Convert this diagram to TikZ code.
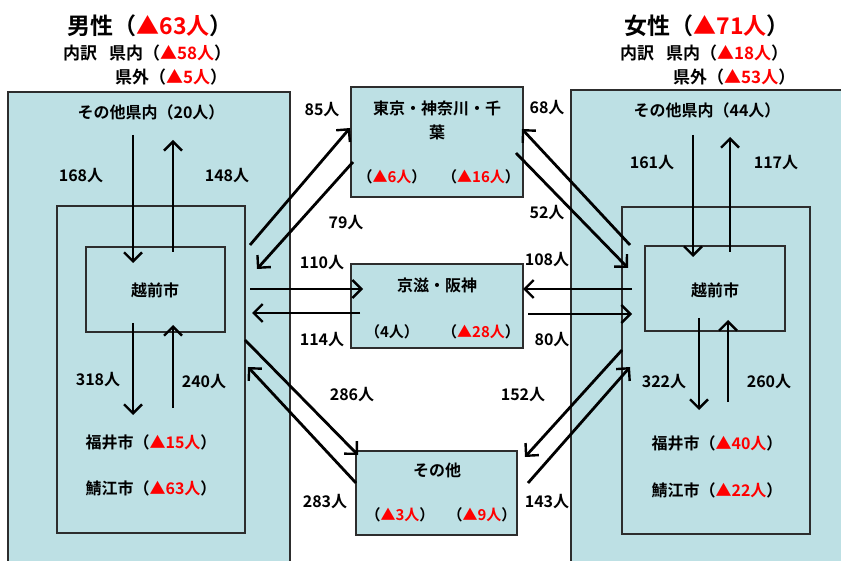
\documentclass[tikz,border=0pt]{standalone}
\usepackage{fontspec}
\setmainfont{Noto Sans CJK JP}[BoldFont={Noto Sans CJK JP Bold}]
\usetikzlibrary{arrows.meta}
\definecolor{boxfill}{RGB}{189,224,228}
\definecolor{hl}{RGB}{255,0,0}
\definecolor{edge}{RGB}{45,45,45}
\begin{document}
\begin{tikzpicture}[x=1pt,y=-1pt,
  box/.style={draw=edge, line width=1.1pt, fill=boxfill, inner sep=0pt},
  flow/.style={line width=2.8pt, -{Straight Barb[length=9pt,width=18pt,line width=2.4pt]}},
  lbl/.style={font=\fontsize{15}{17}\selectfont\bfseries, inner sep=0pt},
  num/.style={font=\fontsize{16}{18}\selectfont\bfseries, inner sep=0pt},
  txt/.style={font=\fontsize{16}{19}\selectfont\bfseries, inner sep=0pt},
  ttl/.style={font=\fontsize{23}{26}\selectfont\bfseries, inner sep=0pt},
  sub/.style={font=\fontsize{17}{20}\selectfont\bfseries, inner sep=0pt, anchor=west}]
\useasboundingbox (0,0) rectangle (841,561);
\clip (0,0) rectangle (841,561);
\fill[white] (0,0) rectangle (841,561);

% boxes
\node[box, minimum width=282pt, minimum height=490pt] (Lout) at (149,337) {};
\node[box, minimum width=188pt, minimum height=327pt] (Lin) at (151,369.5) {};
\node[box, minimum width=139pt, minimum height=85pt] (Lech) at (155.5,289.5) {};
\node[box, minimum width=290pt, minimum height=490pt] (Rout) at (716,335) {};
\node[box, minimum width=188pt, minimum height=327pt] (Rin) at (716,370.5) {};
\node[box, minimum width=140pt, minimum height=85pt] (Rech) at (715,288.5) {};
\node[box, minimum width=172pt, minimum height=110pt] (Tok) at (437,142) {};
\node[box, minimum width=172pt, minimum height=84pt] (Kei) at (437,306) {};
\node[box, minimum width=161pt, minimum height=84pt] (Oth) at (436.5,493) {};

% titles
\node[ttl] (mt) at (150,26) {男性（\textcolor{hl}{▲63人}）};
\node[sub] (ms1) at (63,53) {内訳\hspace{0.7em}県内（\textcolor{hl}{▲58人}）};
\node[sub] (ms2) at (115,77) {県外（\textcolor{hl}{▲5人}）};
\node[ttl] (ft) at (707,26) {女性（\textcolor{hl}{▲71人}）};
\node[sub] (fs1) at (620,53) {内訳\hspace{0.7em}県内（\textcolor{hl}{▲18人}）};
\node[sub] (fs2) at (673,77) {県外（\textcolor{hl}{▲53人}）};

% box texts
\node[txt] (lo) at (151,112) {その他県内（20人）};
\node[txt] (ro) at (707,110) {その他県内（44人）};
\node[txt] (le) at (155,290) {越前市};
\node[txt] (re) at (715,290) {越前市};
\node[txt] (lf) at (151,442) {福井市（\textcolor{hl}{▲15人}）};
\node[txt] (ls) at (151,488) {鯖江市（\textcolor{hl}{▲63人}）};
\node[txt] (rf) at (717,443) {福井市（\textcolor{hl}{▲40人}）};
\node[txt] (rs) at (717,490) {鯖江市（\textcolor{hl}{▲22人}）};
\node[txt] (t1) at (437,108) {東京・神奈川・千};
\node[txt] (t2) at (437,132) {葉};
\node[lbl] (t3) at (392,177) {（\textcolor{hl}{▲6人}）};
\node[lbl] (t4) at (481,177) {（\textcolor{hl}{▲16人}）};
\node[txt] (k1) at (437,285) {京滋・阪神};
\node[lbl] (k2) at (392,332) {（4人）};
\node[lbl] (k3) at (481,332) {（\textcolor{hl}{▲28人}）};
\node[txt] (o1) at (437,470) {その他};
\node[lbl] (o2) at (400,515) {（\textcolor{hl}{▲3人}）};
\node[lbl] (o3) at (482,515) {（\textcolor{hl}{▲9人}）};

% arrow endpoints
\coordinate (l1a) at (133,135); \coordinate (l1b) at (133,263);
\coordinate (l2a) at (173,252); \coordinate (l2b) at (173,140);
\coordinate (l3a) at (133,323); \coordinate (l3b) at (133,415);
\coordinate (l4a) at (173,408); \coordinate (l4b) at (173,325);
\coordinate (r1a) at (693,135); \coordinate (r1b) at (693,257);
\coordinate (r2a) at (730,252); \coordinate (r2b) at (730,137);
\coordinate (r3a) at (699,318); \coordinate (r3b) at (699,410);
\coordinate (r4a) at (728,402); \coordinate (r4b) at (728,320);
\coordinate (a85) at (250,245); \coordinate (b85) at (350,128);
\coordinate (a79) at (353,162); \coordinate (b79) at (257,269);
\coordinate (a110) at (250,289); \coordinate (b110) at (363,289);
\coordinate (a114) at (360,313); \coordinate (b114) at (252,313);
\coordinate (a286) at (245,340); \coordinate (b286) at (358,455);
\coordinate (a283) at (356,483); \coordinate (b283) at (248,367);
\coordinate (a68) at (630,245); \coordinate (b68) at (522,129);
\coordinate (a52) at (516,153); \coordinate (b52) at (628,268);
\coordinate (a108) at (632,289); \coordinate (b108) at (523,289);
\coordinate (a80) at (528,314); \coordinate (b80) at (632,314);
\coordinate (a152) at (622,350); \coordinate (b152) at (525,457);
\coordinate (a143) at (528,483); \coordinate (b143) at (630,367);

% arrows
\foreach \p in {l1,l2,l3,l4,r1,r2,r3,r4} {\draw[flow] (\p a) -- (\p b);}
\foreach \n in {85,79,110,114,286,283,68,52,108,80,152,143} {\draw[flow] (a\n) -- (b\n);}

% flow labels
\node[num] (n168) at (81,176) {168人};
\node[num] (n148) at (227,176) {148人};
\node[num] (n318) at (98,380) {318人};
\node[num] (n240) at (204,382) {240人};
\node[num] (n161) at (652,163) {161人};
\node[num] (n117) at (776,163) {117人};
\node[num] (n322) at (664,382) {322人};
\node[num] (n260) at (769,382) {260人};
\node[num] (n85) at (322,110) {85人};
\node[num] (n79) at (346,223) {79人};
\node[num] (n110) at (322,263) {110人};
\node[num] (n114) at (322,340) {114人};
\node[num] (n286) at (352,395) {286人};
\node[num] (n283) at (325,502) {283人};
\node[num] (n68) at (547,108) {68人};
\node[num] (n52) at (547,213) {52人};
\node[num] (n108) at (547,260) {108人};
\node[num] (n80) at (552,340) {80人};
\node[num] (n152) at (523,395) {152人};
\node[num] (n143) at (547,502) {143人};
\end{tikzpicture}
\end{document}
